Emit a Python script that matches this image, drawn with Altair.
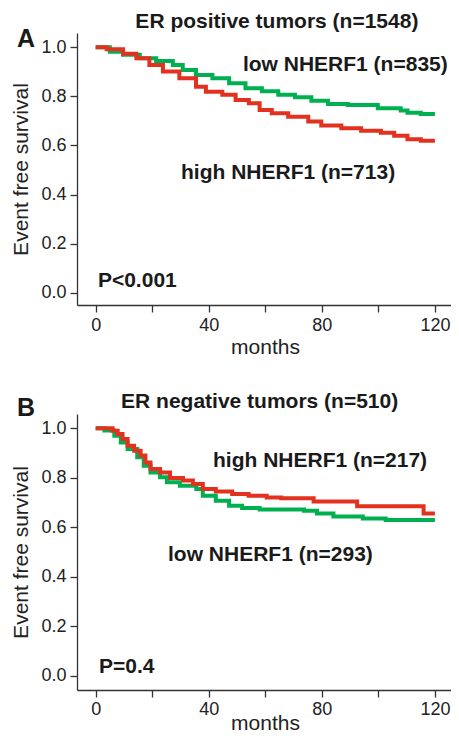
import altair as alt
import pandas as pd

# ---------------- data ----------------
# Panel A: ER positive tumors
a_low_months = [0, 5, 9.7, 15.6, 21.4, 27.3, 30.8, 35.5, 41.3, 47.2, 53, 58.8, 64.6,
                70.5, 76.3, 82.2, 89.2, 96.2, 99.8, 107.9, 110.3, 115, 120]
a_low_surv = [1.0, 0.982, 0.969, 0.955, 0.944, 0.928, 0.907, 0.887, 0.874, 0.853, 0.833,
              0.821, 0.806, 0.796, 0.782, 0.769, 0.765, 0.765, 0.751, 0.742, 0.733, 0.728, 0.728]
a_high_months = [0, 3.9, 9.7, 14.4, 19, 23.8, 29.6, 35.5, 39, 44.8, 49.5, 54.2, 58,
                 62.3, 68.1, 75.2, 79.8, 86.9, 93.9, 100.9, 105.6, 110.3, 115, 120]
a_high_surv = [1.0, 0.992, 0.973, 0.955, 0.928, 0.901, 0.874, 0.839, 0.819, 0.806, 0.785,
               0.772, 0.744, 0.731, 0.717, 0.697, 0.681, 0.670, 0.660, 0.652, 0.639, 0.625,
               0.619, 0.619]

# Panel B: ER negative tumors
b_low_months = [0, 3.1, 6.6, 8.9, 11.3, 14.7, 17, 19.4, 22.8, 25.2, 29.8, 35.6, 37.9,
                42.5, 47.2, 51.8, 58, 73.7, 78.3, 84.1, 94.5, 102.6, 120]
b_low_surv = [1.0, 0.991, 0.970, 0.943, 0.917, 0.883, 0.849, 0.822, 0.802, 0.782, 0.768,
              0.755, 0.728, 0.708, 0.687, 0.678, 0.672, 0.667, 0.656, 0.644, 0.636, 0.630, 0.630]
b_high_months = [0, 6, 7.8, 9.5, 11.3, 13.6, 15.9, 17.6, 19.4, 22.8, 26.3, 30.9, 34.4,
                 37.9, 42.5, 48.3, 54.1, 60.5, 65.6, 77.1, 92.5, 116, 120]
b_high_surv = [1.0, 0.99, 0.977, 0.957, 0.930, 0.910, 0.890, 0.862, 0.836, 0.822, 0.799,
               0.789, 0.775, 0.755, 0.745, 0.735, 0.728, 0.721, 0.718, 0.705, 0.685, 0.656, 0.656]

x_ticks = [0, 20, 40, 60, 80, 100, 120]
y_ticks = [0.0, 0.2, 0.4, 0.6, 0.8, 1.0]

a_title = "ER positive tumors (n=1548)"
b_title = "ER negative tumors (n=510)"
a_labels = ["low NHERF1 (n=835)", "high NHERF1 (n=713)", "P<0.001"]
b_labels = ["high NHERF1 (n=217)", "low NHERF1 (n=293)", "P=0.4"]

# annotation anchor positions (months, survival)
a_label_pos = [(52.1, 0.905), (30.2, 0.463), (0.8, 0.023)]
b_label_pos = [(41.5, 0.842), (25.6, 0.465), (1.2, 0.013)]
a_title_pos = (64.1, 1.079)
b_title_pos = (58.0, 1.084)
a_letter_pos = (-27.8, 1.001)
b_letter_pos = (-27.8, 1.051)

GREEN = "#00AF50"
RED = "#E2321F"
FONT = "Liberation Sans"
TXT = "#1a1a1a"


def panel(low_m, low_v, high_m, high_v, title, title_pos, letter, letter_pos,
          labels, label_pos, height, ydom, xlabel_pad, xtitle_pad):
    xs = alt.Scale(domain=[-6.6, 126.4], nice=False, zero=False)
    ys = alt.Scale(domain=ydom, nice=False, zero=False)
    xax = alt.Axis(values=x_ticks, title="months", grid=False, tickSize=7,
                   labelExpr="datum.value % 40 == 0 ? datum.label : ''",
                   labelPadding=xlabel_pad, titlePadding=xtitle_pad, labelFlush=False)
    yax = alt.Axis(values=y_ticks, format=".1f", title="Event free survival",
                   grid=False, tickSize=7, labelPadding=4, titlePadding=9)

    low = pd.DataFrame({"month": low_m, "surv": low_v})
    high = pd.DataFrame({"month": high_m, "surv": high_v})

    green = alt.Chart(low).mark_line(interpolate="step-after", strokeWidth=4,
                                     color=GREEN).encode(
        x=alt.X("month:Q", scale=xs, axis=xax),
        y=alt.Y("surv:Q", scale=ys, axis=yax))
    red = alt.Chart(high).mark_line(interpolate="step-after", strokeWidth=4,
                                    color=RED).encode(
        x=alt.X("month:Q", scale=xs, axis=xax),
        y=alt.Y("surv:Q", scale=ys, axis=yax))

    ann = pd.DataFrame({"month": [p[0] for p in label_pos],
                        "surv": [p[1] for p in label_pos],
                        "text": labels})
    ann_layer = alt.Chart(ann).mark_text(align="left", baseline="alphabetic",
                                         font=FONT, fontSize=21, fontWeight="bold",
                                         color=TXT).encode(
        x=alt.X("month:Q", scale=xs), y=alt.Y("surv:Q", scale=ys), text="text:N")

    tdf = pd.DataFrame({"month": [title_pos[0]], "surv": [title_pos[1]], "text": [title]})
    title_layer = alt.Chart(tdf).mark_text(align="center", baseline="alphabetic",
                                           font=FONT, fontSize=21, fontWeight="bold",
                                           color=TXT).encode(
        x=alt.X("month:Q", scale=xs), y=alt.Y("surv:Q", scale=ys), text="text:N")

    ldf = pd.DataFrame({"month": [letter_pos[0]], "surv": [letter_pos[1]], "text": [letter]})
    letter_layer = alt.Chart(ldf).mark_text(align="left", baseline="alphabetic",
                                            font=FONT, fontSize=25, fontWeight="bold",
                                            color=TXT).encode(
        x=alt.X("month:Q", scale=xs), y=alt.Y("surv:Q", scale=ys), text="text:N")

    return alt.layer(green, red, ann_layer, title_layer, letter_layer).properties(
        width=376, height=height)


pa = panel(a_low_months, a_low_surv, a_high_months, a_high_surv, a_title, a_title_pos,
           "A", a_letter_pos, a_labels, a_label_pos, 272, [-0.05, 1.058], 4, 2)
pb = panel(b_low_months, b_low_surv, b_high_months, b_high_surv, b_title, b_title_pos,
           "B", b_letter_pos, b_labels, b_label_pos, 276, [-0.057, 1.058], 3, -6)

chart = alt.vconcat(pa, pb, spacing=33).properties(
    padding={"left": 2, "top": 2, "right": -2, "bottom": -1}
).configure_view(stroke=None).configure_axis(
    domainColor="#333", tickColor="#333", domainWidth=1.3, tickWidth=1.3,
    labelColor="#222", titleColor="#222", labelFont=FONT, titleFont=FONT,
    labelFontSize=18, titleFontSize=21, titleFontWeight="normal"
)

chart.save("out.html", embed_options={"renderer": "svg", "actions": False})
